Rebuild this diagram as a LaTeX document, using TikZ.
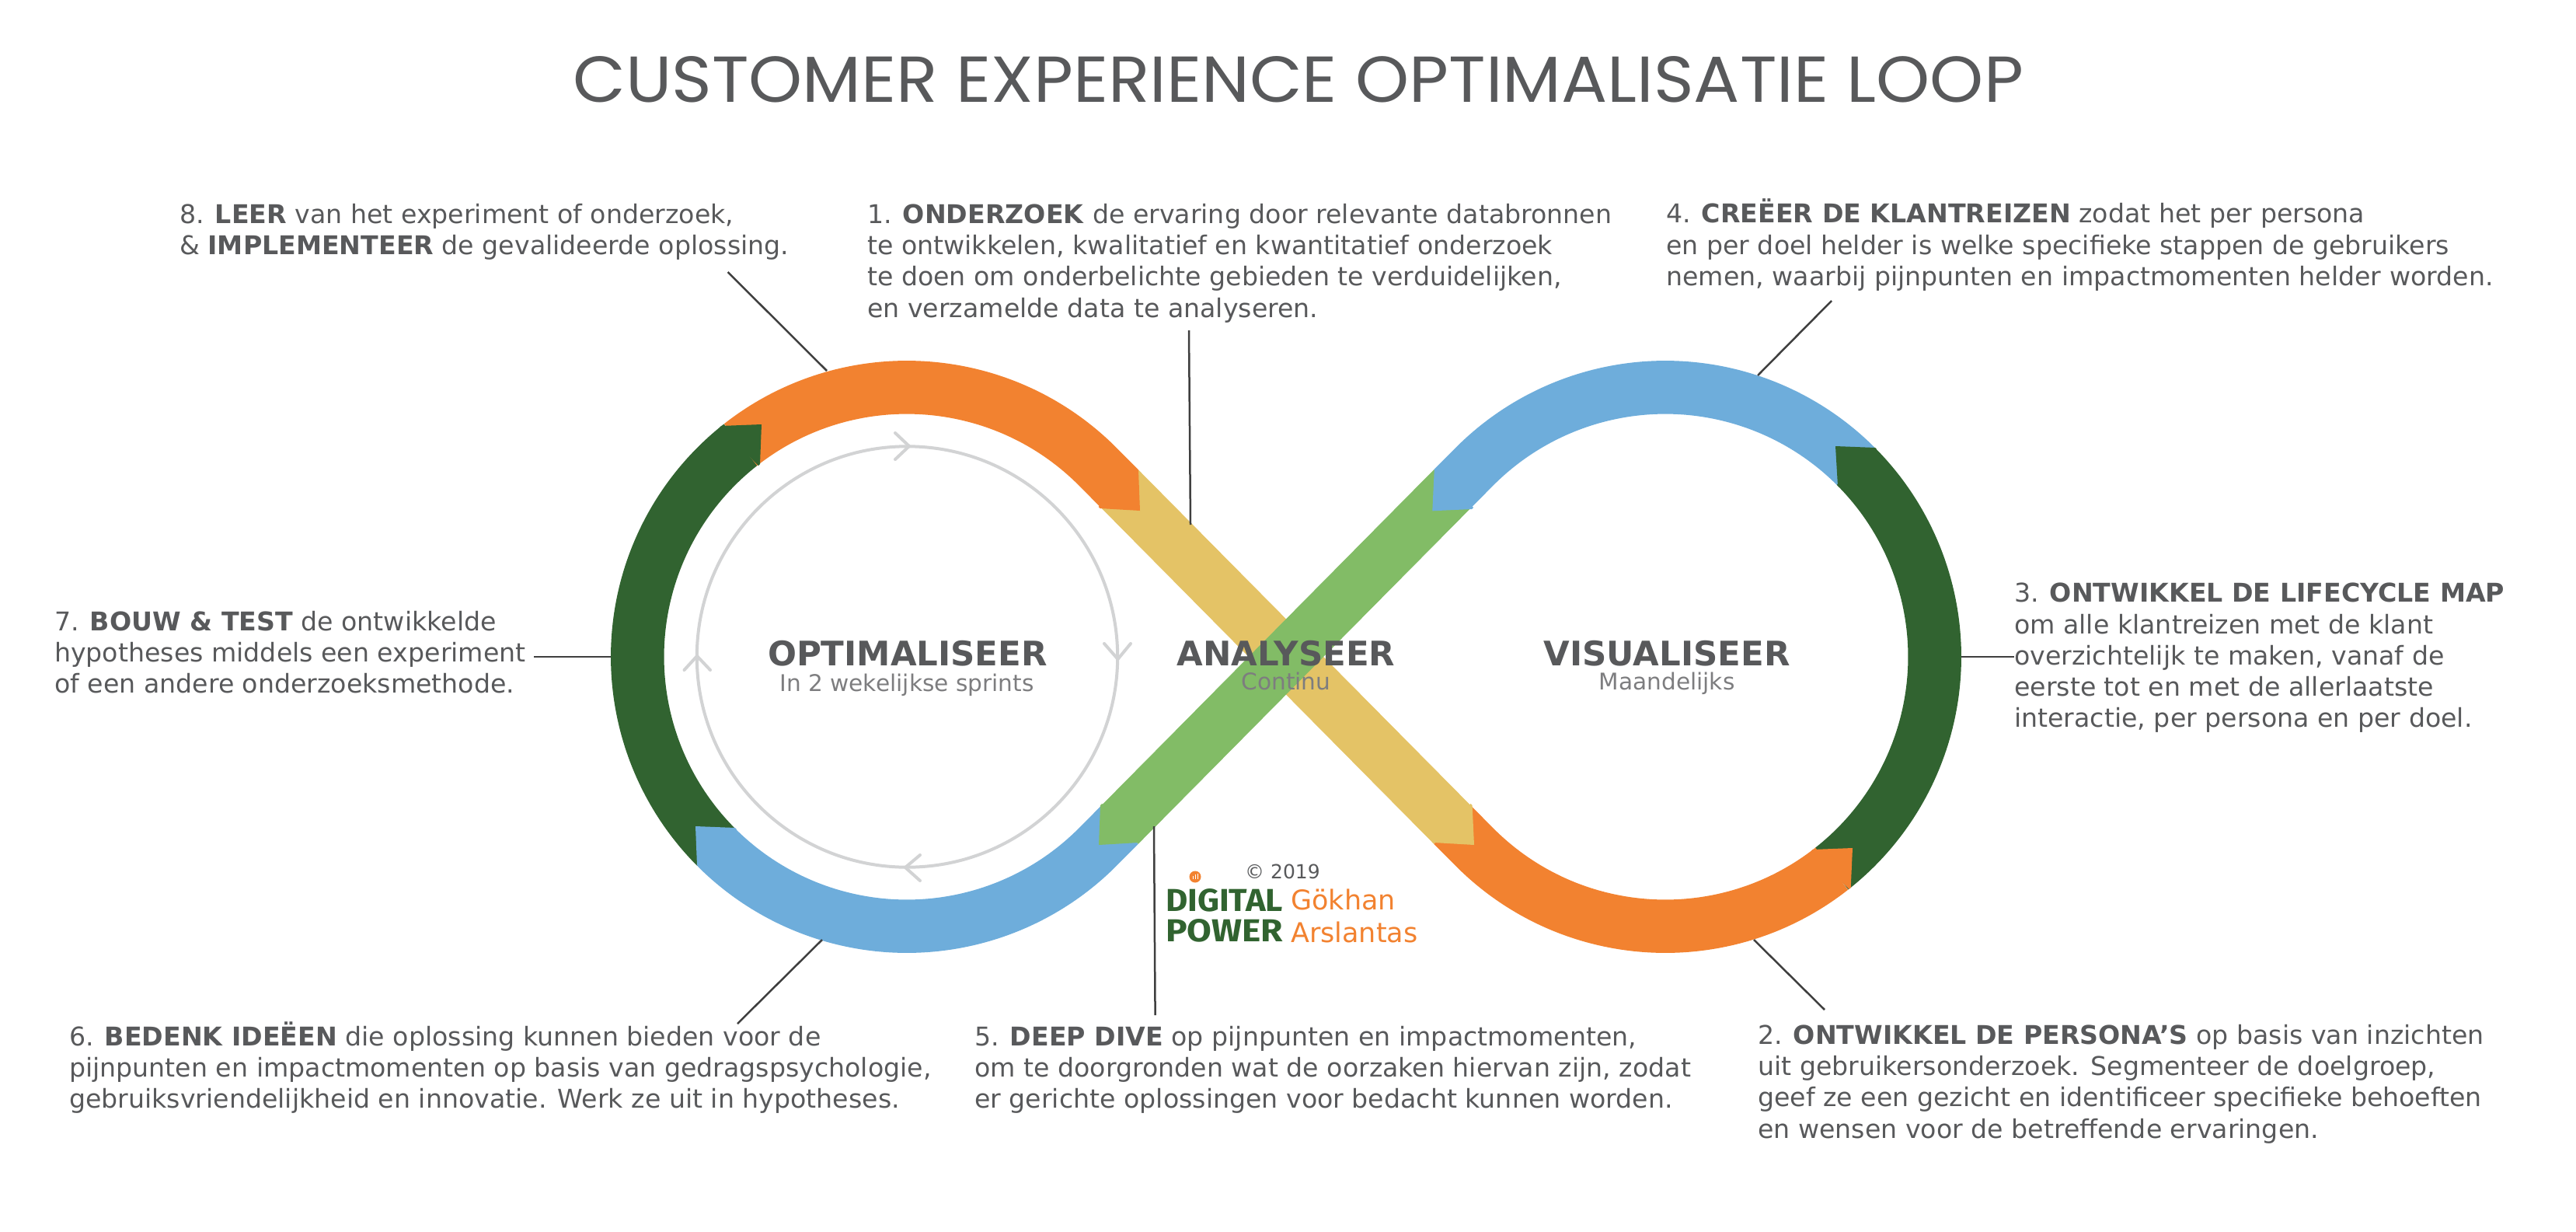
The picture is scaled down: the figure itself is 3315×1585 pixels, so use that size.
\documentclass[tikz,border=0pt]{standalone}
\usepackage{graphicx}
\usepackage{fontspec}
\usetikzlibrary{calc}
\setmainfont{DejaVu Sans}
\newfontfamily\titlefont{Poppins}
\newfontfamily\logofont{Fira Sans}
\definecolor{cxorange}{HTML}{F28230}
\definecolor{cxdark}{HTML}{316330}
\definecolor{cxblue}{HTML}{6EADDB}
\definecolor{cxlight}{HTML}{82BC66}
\definecolor{cxyellow}{HTML}{E4C366}
\definecolor{cxgrey}{HTML}{D2D3D4}
\definecolor{cxtext}{HTML}{58595B}
\definecolor{cxsub}{HTML}{7D7D7F}
\definecolor{cxline}{HTML}{3F3F3F}
\tikzset{
  band/.style={line width=68.5pt,line cap=butt,line join=round},
  body/.style={anchor=north west,inner sep=0pt,align=left,text=cxtext,font=\fontsize{33.2}{40.2}\selectfont},
  phase/.style={anchor=base,inner sep=0pt,text=cxtext,font=\fontsize{43.5}{43.5}\selectfont\bfseries},
  phasesub/.style={anchor=base,inner sep=0pt,text=cxsub,font=\fontsize{29.6}{29.6}\selectfont},
  leader/.style={draw=cxline,line width=2.5pt},
  loopline/.style={draw=cxgrey,line width=4pt,line cap=round,line join=round},
  fitted/.style={anchor=south west,inner sep=0pt},
}
% Pointed end of a band: outer corner, tip, inner corner, and a small offset back into the band
\newcommand{\bandtip}[5]{\fill[#1] #2 -- #3 -- #4 -- ($#4+(#5)$) -- ($#2+(#5)$) -- cycle;}
\begin{document}
\begin{tikzpicture}[x=1pt,y=-1pt]
\useasboundingbox (0,0) rectangle (3315,1585);
\def\midr{346.7}
\coordinate (L) at (1167,845);
\coordinate (R) at (2143,845);
\coordinate (SA) at (1440.4,628.3);
\coordinate (SD) at (1440.4,1061.7);
\coordinate (SE) at (1869.6,1061.7);
\coordinate (SH) at (1869.6,628.3);

% the eight-shaped track
\draw[band,cxyellow] (SA) -- (SE);
\draw[band,cxlight] (SD) -- (SH);
\draw[band,cxorange] ($(L)+(231.85:\midr)$) arc[start angle=231.85,end angle=315.3,radius=\midr] -- (SA);
\draw[band,cxdark] ($(L)+(135:\midr)$) arc[start angle=135,end angle=231.85,radius=\midr];
\draw[band,cxblue] (SD) -- ($(L)+(44.7:\midr)$) arc[start angle=44.7,end angle=135,radius=\midr];
\draw[band,cxblue] (SH) -- ($(R)+(224.7:\midr)$) arc[start angle=224.7,end angle=315,radius=\midr];
\draw[band,cxdark] ($(R)+(-45:\midr)$) arc[start angle=-45,end angle=51.85,radius=\midr];
\draw[band,cxorange] ($(R)+(51.85:\midr)$) arc[start angle=51.85,end angle=135.3,radius=\midr] -- (SE);

% pointed joints where one band overlaps the next
\bandtip{cxorange}{(1465,605)}{(1467,657)}{(1415.6,654)}{-2,-2}
\bandtip{cxdark}{(928,548)}{(980,546)}{(978,597)}{-2,2}
\bandtip{cxblue}{(897,1113)}{(895,1063)}{(946,1065)}{2,2}
\bandtip{cxlight}{(1416,1036)}{(1414,1087)}{(1465,1084)}{2,-2}
\bandtip{cxyellow}{(1894.6,1036)}{(1897,1087)}{(1845.5,1084)}{-2,-2}
\bandtip{cxorange}{(2381.7,1142)}{(2384,1091)}{(2332.7,1093)}{-2,2}
\bandtip{cxdark}{(2413,576)}{(2362,574)}{(2365,625)}{2,2}
\bandtip{cxblue}{(1845.7,605.7)}{(1843.3,657.3)}{(1894,655)}{2,-2}

% sprint cycle inside the left loop
\draw[loopline] (1167.5,845) circle[radius=270.7];
\draw[loopline] (1152,557) -- (1170,574) -- (1152,591);
\draw[loopline] (1421,828) -- (1438.5,848) -- (1455,828);
\draw[loopline] (1184,1100) -- (1165,1116) -- (1184,1133);
\draw[loopline] (880.5,862) -- (897,844) -- (914,862);

% title
\node[fitted] (title) at (737,132) {\resizebox{1866pt}{59pt}{\color{cxtext}\titlefont CUSTOMER EXPERIENCE OPTIMALISATIE LOOP}};

% step descriptions
\node[body] (s8) at (231,262) {8. \textbf{LEER} van het experiment of onderzoek,\\\& \textbf{IMPLEMENTEER} de gevalideerde oplossing.};
\node[body] (s1) at (1116,262) {1. \textbf{ONDERZOEK} de ervaring door relevante databronnen\\te ontwikkelen, kwalitatief en kwantitatief onderzoek\\te doen om onderbelichte gebieden te verduidelijken,\\en verzamelde data te analyseren.};
\node[body] (s4) at (2144,256) {4. \textbf{CREËER DE KLANTREIZEN} zodat het per persona\\en per doel helder is welke specifieke stappen de gebruikers\\nemen, waarbij pijnpunten en impactmomenten helder worden.};
\node[body] (s3) at (2592,750) {3. \textbf{ONTWIKKEL DE LIFECYCLE MAP}\\om alle klantreizen met de klant\\overzichtelijk te maken, vanaf de\\eerste tot en met de allerlaatste\\interactie, per persona en per doel.};
\node[body] (s7) at (70,786) {7. \textbf{BOUW \& TEST} de ontwikkelde\\hypotheses middels een experiment\\of een andere onderzoeksmethode.};
\node[body] (s6) at (89,1314) {6. \textbf{BEDENK IDEËEN} die oplossing kunnen bieden voor de\\pijnpunten en impactmomenten op basis van gedragspsychologie,\\gebruiksvriendelijkheid en innovatie. Werk ze uit in hypotheses.};
\node[body] (s5) at (1254,1320) {5. \textbf{DEEP DIVE} op pijnpunten en impactmomenten,\\om te doorgronden wat de oorzaken hiervan zijn, zodat\\er gerichte oplossingen voor bedacht kunnen worden.};
\node[body] (s2) at (2262,1318) {2. \textbf{ONTWIKKEL DE PERSONA’S} op basis van inzichten\\uit gebruikersonderzoek. Segmenteer de doelgroep,\\geef ze een gezicht en identificeer specifieke behoeften\\en wensen voor de betreffende ervaringen.};

% leader lines from each description to the track
\coordinate (a8) at (936.6,350); \coordinate (b8) at (1064,477);
\coordinate (a1) at (1530,425);  \coordinate (b1) at (1532,675);
\coordinate (a4) at (2357,387);  \coordinate (b4) at (2262,483);
\coordinate (a3) at (2592,845);  \coordinate (b3) at (2524,845);
\coordinate (a2) at (2348,1299); \coordinate (b2) at (2257,1209);
\coordinate (a5) at (1486.6,1306); \coordinate (b5) at (1485,1063);
\coordinate (a6) at (949,1317);  \coordinate (b6) at (1058,1209);
\coordinate (a7) at (687,845);   \coordinate (b7) at (786,845);
\foreach \n in {1,...,8} {\draw[leader] (a\n) -- (b\n);}

% loop names
\node[phase] (opt) at (1168,856) {OPTIMALISEER};
\node[phasesub] (optsub) at (1167,889) {In 2 wekelijkse sprints};
\node[phase] (ana) at (1655,856) {ANALYSEER};
\node[phasesub] (anasub) at (1655,887) {Continu};
\node[phase] (vis) at (2145,856) {VISUALISEER};
\node[phasesub] (vissub) at (2145,887) {Maandelijks};

% logo and credit
\fill[cxorange] (1538,1128) circle[radius=7.5];
\draw[white,line width=0.9pt] (1535,1131) -- (1535,1127) (1538,1131) -- (1538,1125) (1541,1131) -- (1541,1124);
\node[fitted] (digital) at (1500,1173) {\resizebox{151pt}{29pt}{\color{cxdark}\logofont\bfseries DIGITAL}};
\node[fitted] (power) at (1500,1212) {\resizebox{151pt}{29pt}{\color{cxdark}\logofont\bfseries POWER}};
\node[anchor=base west,inner sep=0pt,text=cxtext,font=\fontsize{25}{25}\selectfont] (copy) at (1602,1130) {© 2019};
\node[anchor=base west,inner sep=0pt,text=cxorange,font=\fontsize{35}{35}\selectfont] (first) at (1661,1170) {Gökhan};
\node[anchor=base west,inner sep=0pt,text=cxorange,font=\fontsize{35}{35}\selectfont] (last) at (1661,1212) {Arslantas};
\end{tikzpicture}
\end{document}
